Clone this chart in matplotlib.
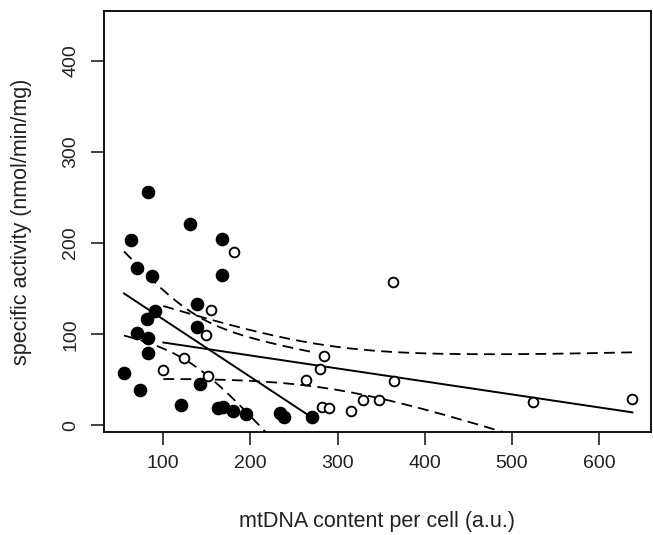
import numpy as np
import matplotlib
matplotlib.use("Agg")
import matplotlib.pyplot as plt

plt.rcParams["font.family"] = ["Liberation Sans", "DejaVu Sans"]

# filled circles (group 1)
filled_x = [82.7, 62.5, 130.6, 167.7, 70.1, 86.6, 167.7, 138.3, 90.4, 80.9, 138.3, 70.1,
            82.7, 82.7, 54.9, 73.2, 142.1, 119.9, 163.1, 168.1, 179.6, 194.9, 233.9, 238.8, 270.9]
filled_y = [256.3, 203.3, 220.8, 204.0, 172.2, 164.1, 165.2, 132.7, 125.0, 116.3, 107.5, 101.6,
            96.1, 79.0, 57.7, 38.7, 45.3, 22.6, 19.7, 20.4, 15.4, 12.1, 14.2, 9.8, 9.4]

# open circles (group 2)
open_x = [181.5, 154.7, 149.0, 124.1, 100.0, 151.6, 363.2, 284.4, 279.8, 263.7, 364.7, 329.5,
          347.8, 282.1, 290.1, 315.0, 524.6, 638.2]
open_y = [189.8, 126.1, 99.1, 73.8, 60.7, 54.8, 156.9, 76.0, 61.8, 49.4, 48.6, 28.1,
          27.4, 20.1, 19.3, 15.7, 25.2, 28.9]

x_ticks = [100, 200, 300, 400, 500, 600]
y_ticks = [0, 100, 200, 300, 400]


def fit_with_band(x, y, tval):
    # least squares line plus 95% confidence band for the mean
    x = np.asarray(x)
    y = np.asarray(y)
    n = len(x)
    b, a = np.polyfit(x, y, 1)
    resid = y - (a + b * x)
    s = np.sqrt(np.sum(resid ** 2) / (n - 2))
    sxx = np.sum((x - x.mean()) ** 2)
    xs = np.linspace(x.min(), x.max(), 200)
    fit = a + b * xs
    half = tval * s * np.sqrt(1.0 / n + (xs - x.mean()) ** 2 / sxx)
    return xs, fit, fit - half, fit + half


fig = plt.figure(figsize=(6.53, 5.35), dpi=100)
ax = fig.add_axes([0.1588, 0.1916, 0.9970 - 0.1588, 0.9794 - 0.1916])

dash = (6, 3.5)
# t quantiles (0.975) for df = n - 2
for xs_, ys_, tv in [(filled_x, filled_y, 2.069), (open_x, open_y, 2.120)]:
    xs, fit, lo, hi = fit_with_band(xs_, ys_, tv)
    ax.plot(xs, fit, color="black", lw=1.4)
    ax.plot(xs, lo, color="black", lw=1.3, dashes=dash)
    ax.plot(xs, hi, color="black", lw=1.3, dashes=dash)

ax.plot(filled_x, filled_y, "o", color="black", ms=8.8, mec="black", zorder=3)
ax.plot(open_x, open_y, "o", mfc="white", mec="black", ms=7.0, mew=1.35, zorder=3)

ax.set_xlim(31.6, 659.6)
ax.set_ylim(-7.7, 454.5)
ax.set_xticks(x_ticks)
ax.set_yticks(y_ticks)
ax.tick_params(length=9.5, width=1.2, labelsize=14, color="#222222", labelcolor="#222222")
ax.tick_params(axis="x", pad=7)
ax.tick_params(axis="y", pad=8)
for lab in ax.get_yticklabels():
    lab.set_rotation(90)
    lab.set_va("center")
for sp in ax.spines.values():
    sp.set_linewidth(1.3)

ax.set_xlabel("mtDNA content per cell (a.u.)", fontsize=15.5, color="#222222")
ax.set_ylabel("specific activity (nmol/min/mg)", fontsize=15.5, color="#222222")
ax.xaxis.set_label_coords(0.5, -0.2116)
ax.xaxis.label.set_va("center")
ax.yaxis.set_label_coords(-0.1498, 0.5)
ax.yaxis.label.set_va("center")

fig.savefig("out.png", dpi=100)
